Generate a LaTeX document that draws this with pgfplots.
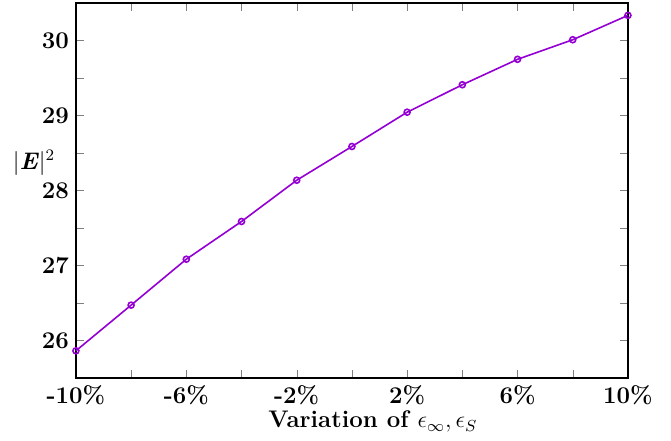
\documentclass[border=0pt]{standalone}
\usepackage{pgfplots}
\pgfplotsset{compat=1.18}
\definecolor{lineviolet}{RGB}{148,0,211}

\begin{document}
\begin{tikzpicture}
\begin{axis}[scale only axis, width=276pt, height=187.5pt,
  xmin=-10, xmax=10, ymin=25.5, ymax=30.5,
  axis line style={line width=0.8pt},
  major tick length=4pt, minor tick length=4pt,
  xtick={-10,-6,...,10}, minor xtick={-8,-4,0,4,8},
  ytick={26,27,...,30}, minor ytick={26.5,27.5,28.5,29.5},
  /pgf/number format/assume math mode=true,
  xticklabel={\pgfmathprintnumber{\tick}\%},
  tick label style={font=\large\bfseries},
  xlabel={Variation of $\epsilon_\infty, \epsilon_S$},
  xlabel style={font=\large\bfseries, at={(axis description cs:0.538,-0.117)}, anchor=center},
  ylabel={$|$\textbf{\textit{E}}$|^2$},
  ylabel style={font=\large, rotate=-90, at={(axis description cs:-0.076,0.573)}, anchor=center},
  clip=false]
 \addplot[color=lineviolet, line width=0.8pt, mark=o, mark size=1.5pt] coordinates {
  (-10,25.863) (-8,26.472) (-6,27.084) (-4,27.587) (-2,28.137) (0,28.587)
  (2,29.044) (4,29.410) (6,29.749) (8,30.010) (10,30.335)};
 \path (axis cs:-12.75,24.67) coordinate (bbl);
 \path (axis cs:11.56,30.54) coordinate (btr);
\end{axis}
\path (bbl) rectangle (btr);
\end{tikzpicture}
\end{document}
